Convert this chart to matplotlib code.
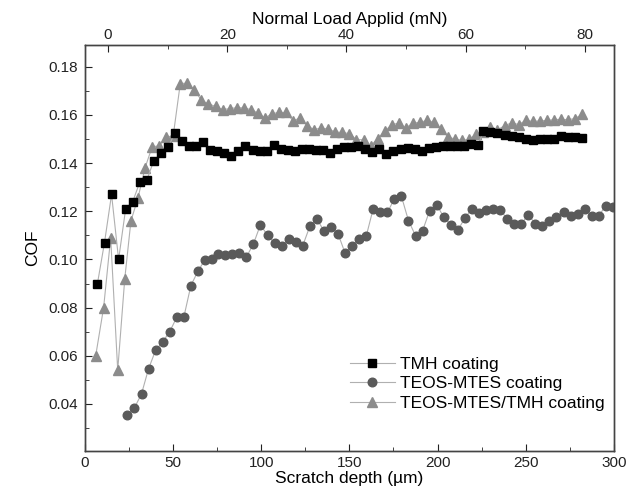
import matplotlib
matplotlib.use("Agg")
import matplotlib.pyplot as plt
from matplotlib.ticker import MultipleLocator

plt.rcParams['font.family'] = ['Liberation Sans', 'DejaVu Sans']

# TMH coating
tmh_depth = [7, 11, 15, 19, 23, 27, 31, 35, 39, 43, 47, 51, 55, 59, 63, 67, 71, 75, 79, 83,
             87, 91, 95, 99, 103, 107, 111, 115, 119, 123, 127, 131, 135, 139, 143, 147, 151,
             155, 159, 163, 167, 171, 175, 179, 183, 187, 191, 195, 199, 203, 207, 211, 215,
             219, 223, 226, 230, 234, 238, 242, 246, 250, 254, 258, 262, 266, 270, 274, 278, 282]
tmh_cof = [0.090, 0.107, 0.127, 0.100, 0.121, 0.124, 0.132, 0.133, 0.141, 0.144, 0.1465, 0.1525,
           0.149, 0.147, 0.147, 0.1486, 0.1456, 0.145, 0.144, 0.143, 0.145, 0.147, 0.1456, 0.145,
           0.145, 0.1473, 0.146, 0.1455, 0.145, 0.146, 0.146, 0.1455, 0.1455, 0.1442, 0.1458,
           0.1468, 0.1465, 0.147, 0.146, 0.1445, 0.1458, 0.1438, 0.1452, 0.146, 0.1462, 0.1458,
           0.145, 0.1462, 0.1465, 0.147, 0.1472, 0.147, 0.1472, 0.1478, 0.1475, 0.1532, 0.1528,
           0.1525, 0.1515, 0.1511, 0.1508, 0.1502, 0.1497, 0.1501, 0.1501, 0.150, 0.1511, 0.1509,
           0.1507, 0.1504]

# TEOS-MTES coating
tm_depth = [24, 28, 32, 36, 40, 44, 48, 52, 56, 60, 64, 68, 72, 75.5, 79.5, 83.5, 87.5, 91.5,
            95.5, 99.5, 103.5, 107.5, 111.5, 115.5, 119.5, 123.5, 127.5, 131.5, 135.5, 139.5,
            143.5, 147.5, 151.5, 155.5, 159.5, 163.5, 167.5, 171.5, 175.5, 179.5, 183.5, 187.5,
            191.5, 195.5, 199.5, 203.5, 207.5, 211.5, 215.5, 219.5, 223.5, 227.5, 231.5, 235.5,
            239.5, 243.5, 247.5, 251.5, 255.5, 259.5, 263.5, 267.5, 271.5, 275.5, 279.5, 283.5,
            287.5, 291.5, 295.5, 299.5]
tm_cof = [0.0355, 0.0384, 0.0442, 0.0546, 0.0623, 0.0658, 0.070, 0.076, 0.076, 0.0891, 0.0951,
          0.0999, 0.1002, 0.1023, 0.102, 0.1024, 0.1027, 0.101, 0.1064, 0.1144, 0.110, 0.1068,
          0.1056, 0.1085, 0.1071, 0.1057, 0.1137, 0.1168, 0.1119, 0.1135, 0.1107, 0.1027, 0.1057,
          0.1086, 0.1096, 0.1211, 0.1196, 0.1195, 0.1251, 0.1262, 0.1161, 0.1099, 0.1119, 0.1202,
          0.1227, 0.1176, 0.1144, 0.1121, 0.1172, 0.121, 0.1193, 0.1204, 0.121, 0.1207, 0.1168,
          0.1149, 0.1147, 0.1186, 0.1147, 0.1137, 0.1158, 0.1176, 0.1195, 0.1179, 0.119, 0.121,
          0.1182, 0.1182, 0.1223, 0.1216]

# TEOS-MTES/TMH coating
mix_depth = [6, 10.5, 14.5, 18.5, 22.5, 26, 30, 34, 38, 42, 46, 50, 54, 58, 62, 66, 70, 74, 78,
             82, 86, 90, 94, 98, 102, 106, 110, 114, 118, 122, 126, 130, 134, 138, 142, 146, 150,
             154, 158, 162, 166, 170, 174, 178, 182, 186, 190, 194, 198, 202, 206, 210, 214, 218,
             222, 226, 230, 234, 238, 242, 246, 250, 254, 258, 262, 266, 270, 274, 278, 282]
mix_cof = [0.060, 0.080, 0.109, 0.054, 0.092, 0.116, 0.1255, 0.138, 0.1467, 0.1472, 0.1507, 0.1514,
           0.173, 0.1732, 0.1705, 0.166, 0.1646, 0.1635, 0.1622, 0.1626, 0.163, 0.1629, 0.1622,
           0.1608, 0.1587, 0.1605, 0.161, 0.161, 0.1576, 0.1587, 0.1555, 0.1539, 0.1546, 0.1541,
           0.1529, 0.1527, 0.1522, 0.1497, 0.1497, 0.1472, 0.1501, 0.1533, 0.1559, 0.1566, 0.1546,
           0.1566, 0.1569, 0.1577, 0.1569, 0.1542, 0.1507, 0.150, 0.1494, 0.1499, 0.1522, 0.153,
           0.155, 0.1538, 0.1555, 0.1567, 0.156, 0.1577, 0.1573, 0.1575, 0.1577, 0.158, 0.1582,
           0.158, 0.1585, 0.1602]

fig = plt.figure(figsize=(6.4, 4.95), dpi=100)
ax = fig.add_axes([0.133, 0.089, 0.826, 0.820])

line_col = '#b0b0b0'
ax.plot(tmh_depth, tmh_cof, '-', color=line_col, lw=0.8, marker='s', ms=5.5,
        mfc='black', mec='black', label='TMH coating', zorder=4)
ax.plot(tm_depth, tm_cof, '-', color=line_col, lw=0.8, marker='o', ms=6.2,
        mfc='#5a5a5a', mec='#5a5a5a', label='TEOS-MTES coating', zorder=3)
ax.plot(mix_depth, mix_cof, '-', color=line_col, lw=0.8, marker='^', ms=6.5,
        mfc='#8c8c8c', mec='#8c8c8c', label='TEOS-MTES/TMH coating', zorder=3)

ax.set_xlim(0, 300)
ax.set_ylim(0.0205, 0.189)
ax.xaxis.set_major_locator(MultipleLocator(50))
ax.xaxis.set_minor_locator(MultipleLocator(25))
ax.yaxis.set_major_locator(MultipleLocator(0.02))
ax.yaxis.set_minor_locator(MultipleLocator(0.01))
ax.yaxis.set_major_formatter(plt.FuncFormatter(lambda v, p: f"{v:.2f}"))
ax.tick_params(which='both', direction='in', labelsize=11, colors='#222222')
ax.tick_params(which='major', length=5)
ax.tick_params(which='minor', length=3)
ax.tick_params(axis='y', pad=5)
ax.set_xlabel("Scratch depth (\u00b5m)", fontsize=12.5, labelpad=1)
ax.set_ylabel("COF", fontsize=12.5, labelpad=6)

top = ax.twiny()
top.set_xlim(-3.86, 84.86)
top.xaxis.set_major_locator(MultipleLocator(20))
top.xaxis.set_minor_locator(MultipleLocator(10))
top.tick_params(which='both', direction='in', labelsize=11, colors='#222222', pad=2)
top.tick_params(which='major', length=5)
top.tick_params(which='minor', length=3)
top.set_xlabel("Normal Load Applid (mN)", fontsize=12.5, labelpad=3)

for a in (ax, top):
    for s in a.spines.values():
        s.set_color('#444444')
        s.set_linewidth(1.0)

ax.legend(loc='lower right', bbox_to_anchor=(1.012, 0.06), frameon=False, fontsize=12.5,
          handlelength=2.6, handletextpad=0.3, labelspacing=0.25)

fig.savefig("out.png", dpi=100)
